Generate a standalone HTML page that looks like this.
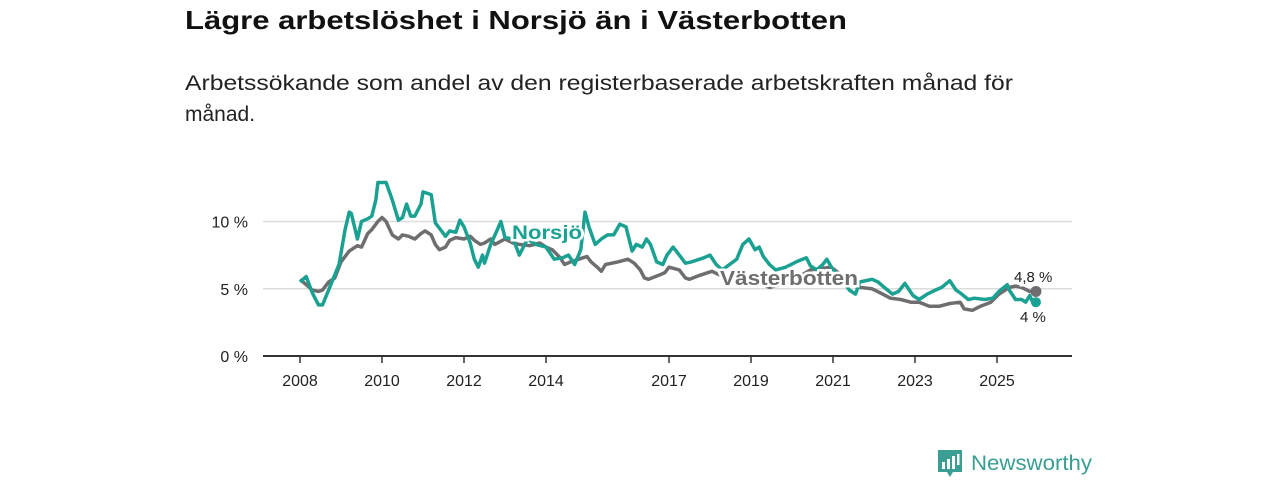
<!DOCTYPE html>
<html><head><meta charset="utf-8"><style>
html,body{margin:0;padding:0;background:#fff;width:1280px;height:480px;overflow:hidden}
svg{display:block}
text{font-family:"Liberation Sans","DejaVu Sans",sans-serif}
</style></head><body>
<svg id="chart" width="1280" height="480" viewBox="0 0 1280 480">
<text x="185" y="29" font-size="26" font-weight="bold" fill="#111" textLength="662" lengthAdjust="spacingAndGlyphs">Lägre arbetslöshet i Norsjö än i Västerbotten</text>
<text x="185" y="90" font-size="21" fill="#222" textLength="828" lengthAdjust="spacingAndGlyphs">Arbetssökande som andel av den registerbaserade arbetskraften månad för</text>
<text x="185" y="121" font-size="21" fill="#222">månad.</text>
<g id="grid"></g><g id="axes"></g><g id="lines"></g><g id="labels"></g>
<g>
<path d="M938 450 h24 v22 h-9 l-3 5 l-3 -5 h-9 z" fill="#3a9e92"/>
<rect x="942" y="462" width="3" height="7" fill="#fff"/><rect x="947" y="459" width="3" height="10" fill="#fff"/><rect x="952" y="456" width="3" height="13" fill="#fff"/><rect x="957" y="454" width="2.5" height="11" fill="#fff"/>
<text x="971" y="470" font-size="21" fill="#3a9e92" textLength="121" lengthAdjust="spacingAndGlyphs">Newsworthy</text>
</g>
</svg>
<script>
const yTicks=[0,5,10];
const xTicks=[2008,2010,2012,2014,2017,2019,2021,2023,2025];
const norsjoYears=[2008.0,2008.15,2008.3,2008.45,2008.55,2008.75,2008.95,2009.1,2009.2,2009.25,2009.4,2009.5,2009.65,2009.75,2009.85,2009.9,2010.1,2010.25,2010.4,2010.5,2010.6,2010.7,2010.8,2010.95,2011.0,2011.2,2011.3,2011.45,2011.55,2011.65,2011.8,2011.9,2012.0,2012.15,2012.25,2012.35,2012.45,2012.5,2012.65,2012.8,2012.9,2013.0,2013.2,2013.35,2013.55,2013.75,2014.0,2014.2,2014.4,2014.55,2014.7,2014.85,2014.95,2015.05,2015.2,2015.35,2015.5,2015.65,2015.8,2015.95,2016.1,2016.2,2016.35,2016.45,2016.55,2016.7,2016.85,2016.95,2017.1,2017.25,2017.4,2017.55,2017.85,2018.0,2018.15,2018.3,2018.65,2018.8,2018.95,2019.1,2019.2,2019.3,2019.45,2019.6,2019.85,2020.1,2020.35,2020.45,2020.6,2020.75,2020.85,2021.0,2021.2,2021.4,2021.55,2021.65,2021.95,2022.1,2022.25,2022.45,2022.6,2022.75,2022.95,2023.1,2023.3,2023.5,2023.65,2023.85,2024.0,2024.1,2024.3,2024.45,2024.7,2024.9,2025.05,2025.25,2025.3,2025.45,2025.6,2025.7,2025.8,2025.9,2025.95];
const norsjoValues=[5.5,5.9,4.7,3.8,3.8,5.3,6.8,9.4,10.7,10.6,8.7,10.0,10.2,10.4,11.6,12.9,12.9,11.6,10.1,10.3,11.3,10.4,10.4,11.3,12.2,12.0,9.9,9.3,8.9,9.3,9.2,10.1,9.6,8.4,7.2,6.6,7.5,6.9,8.3,9.3,10.0,8.8,8.7,7.5,8.7,8.3,8.1,7.2,7.3,7.5,6.8,7.9,10.7,9.6,8.3,8.7,9.0,9.0,9.8,9.6,7.8,8.3,8.1,8.7,8.3,7.0,6.8,7.5,8.1,7.5,6.9,7.0,7.3,7.5,6.8,6.4,7.2,8.3,8.7,7.9,8.1,7.4,6.8,6.4,6.6,7.0,7.3,6.7,6.4,6.8,7.2,6.4,5.7,4.9,4.6,5.5,5.7,5.5,5.1,4.6,4.8,5.4,4.5,4.2,4.6,4.9,5.1,5.6,4.9,4.7,4.2,4.3,4.2,4.3,4.8,5.3,4.9,4.2,4.2,4.0,4.5,3.8,4.0];
const vbYears=[2008.0,2008.15,2008.3,2008.45,2008.55,2008.7,2008.85,2009.0,2009.2,2009.4,2009.5,2009.65,2009.75,2009.9,2010.0,2010.1,2010.25,2010.4,2010.5,2010.65,2010.8,2010.95,2011.05,2011.2,2011.3,2011.4,2011.55,2011.65,2011.8,2012.0,2012.15,2012.25,2012.4,2012.5,2012.65,2012.75,2013.0,2013.2,2013.35,2013.6,2013.85,2014.0,2014.15,2014.35,2014.45,2014.6,2014.9,2015.0,2015.1,2015.25,2015.35,2015.45,2015.75,2016.0,2016.15,2016.3,2016.4,2016.5,2016.75,2016.9,2017.0,2017.25,2017.4,2017.5,2017.75,2018.05,2018.25,2018.7,2019.2,2019.45,2019.95,2020.45,2020.95,2021.3,2021.65,2021.95,2022.15,2022.4,2022.65,2022.9,2023.1,2023.35,2023.6,2023.85,2024.1,2024.2,2024.4,2024.6,2024.85,2025.05,2025.3,2025.45,2025.6,2025.8,2025.95];
const vbValues=[5.7,5.3,4.9,4.8,4.9,5.5,5.8,7.0,7.8,8.2,8.1,9.1,9.4,10.0,10.3,10.0,9.0,8.7,9.0,8.9,8.7,9.1,9.3,9.0,8.3,7.9,8.1,8.6,8.8,8.7,8.9,8.6,8.3,8.4,8.7,8.3,8.7,8.4,8.3,8.2,8.4,8.1,7.9,7.3,6.8,7.0,7.3,7.4,7.0,6.6,6.3,6.8,7.0,7.2,6.9,6.4,5.8,5.7,6.0,6.2,6.6,6.4,5.8,5.7,6.0,6.3,6.0,5.7,5.4,5.1,5.5,6.4,6.6,5.8,5.1,5.0,4.7,4.3,4.2,4.0,4.0,3.7,3.7,3.9,4.0,3.5,3.4,3.7,4.0,4.6,5.1,5.2,5.1,4.8,4.8];
const NS='http://www.w3.org/2000/svg';
const xS=y=>300+(y-2008)*41;
const yS=v=>356-v*13.45;
function mk(tag,attrs,parent){const e=document.createElementNS(NS,tag);for(const k in attrs)e.setAttribute(k,attrs[k]);parent.appendChild(e);return e;}
const grid=document.getElementById('grid'),axes=document.getElementById('axes'),lines=document.getElementById('lines'),labels=document.getElementById('labels');
yTicks.forEach(t=>{
  if(t>0){const g=mk('line',{x1:263,x2:1072,y1:yS(t),y2:yS(t),stroke:'#dcdcdc','stroke-width':1.5},grid);
  
  }
  const tx=mk('text',{x:248,y:yS(t)+6,'text-anchor':'end','font-size':16,fill:'#222'},axes);tx.textContent=t+' %';
  
  
});
const base=mk('line',{x1:263,x2:1072,y1:356,y2:356,stroke:'#333','stroke-width':2},axes);


xTicks.forEach(t=>{
  const x=xS(t);
  const tk=mk('line',{x1:x,x2:x,y1:356,y2:363,stroke:'#333','stroke-width':1.5},axes);
  
  
  const tx=mk('text',{x:x,y:386,'text-anchor':'middle','font-size':16,fill:'#222'},axes);tx.textContent=t;
  
  
});
function path(xs,vs){return xs.map((y,i)=>(i?'L':'M')+xS(y).toFixed(1)+' '+yS(vs[i]).toFixed(1)).join(' ');}
const vb=mk('path',{d:path(vbYears,vbValues),fill:'none',stroke:'#6f6d70','stroke-width':3.5,'stroke-linejoin':'round'},lines);


const no=mk('path',{d:path(norsjoYears,norsjoValues),fill:'none',stroke:'#1aa192','stroke-width':3.5,'stroke-linejoin':'round'},lines);


const lv=vbValues.length-1,ln=norsjoValues.length-1;
const d1=mk('circle',{cx:xS(vbYears[lv]),cy:yS(vbValues[lv]),r:5.5,fill:'#6f6d70'},lines);


const d2=mk('circle',{cx:xS(norsjoYears[ln]),cy:yS(norsjoValues[ln]),r:5,fill:'#1aa192'},lines);


function lab(x,y,txt,col,name,size,bold,len){
  const a={x:x,y:y,'font-size':size,'font-weight':bold?'bold':'normal',fill:col,stroke:'#fff','stroke-width':5,'paint-order':'stroke'};
  if(len){a.textLength=len;a.lengthAdjust='spacingAndGlyphs';}
  const t=mk('text',a,labels);t.textContent=txt;
  
  
}
lab(512,239,'Norsjö','#1aa192','norsjo-series-label',19,true,70);
lab(720,285,'Västerbotten','#6f6d70','vasterbotten-series-label',20,true,138);
lab(1014,282,'4,8 %','#222','vasterbotten-end-value',15,false,0);
lab(1020,322,'4 %','#222','norsjo-end-value',15,false,0);
</script>
</body></html>
